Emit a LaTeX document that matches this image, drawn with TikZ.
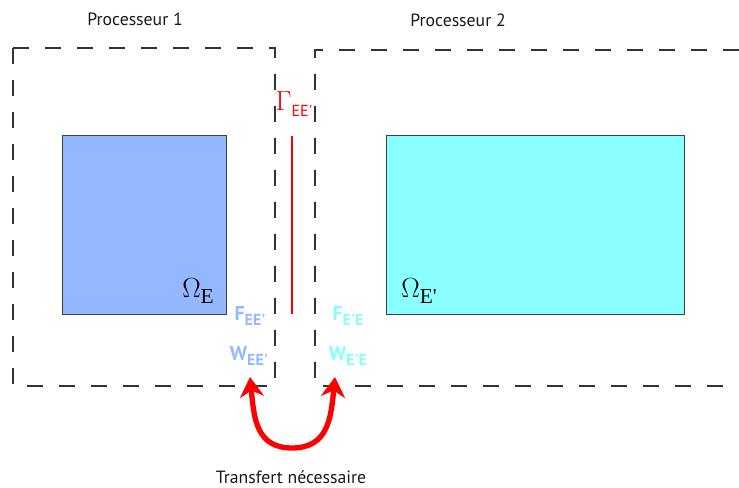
\documentclass[tikz,border=0pt]{standalone}
\usepackage{fontspec}
\setmainfont{Liberation Serif}
\newfontfamily\ptsans{PT Sans}
\newfontfamily\tnr{Liberation Serif}
\usetikzlibrary{arrows.meta}
\definecolor{boxblue}{RGB}{148,184,255}
\definecolor{boxcyan}{RGB}{138,255,255}
\definecolor{lblblue}{RGB}{150,186,255}
\definecolor{lblcyan}{RGB}{136,255,255}
\definecolor{dashgray}{RGB}{51,51,51}
\tikzset{
  procbox/.style={draw=dashgray, line width=1.1pt, dash pattern=on 12pt off 12pt},
  dombox/.style={draw=black!75, line width=0.8pt},
  title/.style={font=\ptsans\fontsize{13.3}{15}\selectfont, text=black!90, inner sep=0pt},
  omega/.style={font=\fontsize{21}{23}\selectfont, inner sep=0pt},
  flbl/.style={font=\ptsans\bfseries\fontsize{15}{17}\selectfont, inner sep=0pt},
  transfer/.style={draw=red, line width=4pt, {Stealth[length=15pt,width=18pt]}-{Stealth[length=15pt,width=18pt]}}
}
\begin{document}
\begin{tikzpicture}[x=0.75pt,y=-0.75pt]
\useasboundingbox (0,0) rectangle (739,488);
% processor boxes
\draw[procbox] (13,48) rectangle (275,386);
\draw[procbox] (739,50) -- (315,50) -- (315,386) -- (739,386);
% domains
\node[dombox, fill=boxblue, minimum width=123pt, minimum height=134.25pt, anchor=north west, inner sep=0pt] (omE) at (62,135) {};
\node[dombox, fill=boxcyan, minimum width=223.5pt, minimum height=134.25pt, anchor=north west, inner sep=0pt] (omEp) at (386,135) {};
% interface
\coordinate (gtop) at (292,136);
\coordinate (gbot) at (292,314);
\draw[red, line width=1pt] (gtop) -- (gbot);
\node[omega, text=red] (gamma) at (294,104) {$\Gamma$\raisebox{-0.45ex}{\ptsans\fontsize{12}{12}\selectfont EE\textquotesingle}};
% omega labels
\node[omega] (lE) at (198,291) {$\Omega$\raisebox{-0.45ex}{\tnr\fontsize{16}{16}\selectfont E}};
\node[omega] (lEp) at (419,291) {$\Omega$\raisebox{-0.45ex}{\tnr\fontsize{16}{16}\selectfont E\textquotesingle}};
% F and W labels
\node[flbl, text=lblblue] (F1) at (250,316) {F\raisebox{-0.45ex}{\fontsize{12}{12}\selectfont EE\textquotesingle}};
\node[flbl, text=lblblue] (W1) at (249,356) {W\raisebox{-0.45ex}{\fontsize{12}{12}\selectfont EE\textquotesingle}};
\node[flbl, text=lblcyan] (F2) at (348,316) {F\raisebox{-0.45ex}{\fontsize{12}{12}\selectfont E\textquotesingle E}};
\node[flbl, text=lblcyan] (W2) at (348,356) {W\raisebox{-0.45ex}{\fontsize{12}{12}\selectfont E\textquotesingle E}};
% titles
\node[title] (p1) at (135,19) {Processeur 1};
\node[title] (p2) at (458,20) {Processeur 2};
\node[title] (tr) at (291,477) {Transfert nécessaire};
% transfer arrow
\coordinate (al) at (250,377);
\coordinate (ar) at (335,377);
\coordinate (abot) at (292,448);
\draw[transfer] (al) .. controls (254,418) and (256,448) .. (abot) .. controls (328,448) and (331,418) .. (ar);
\end{tikzpicture}
\end{document}
